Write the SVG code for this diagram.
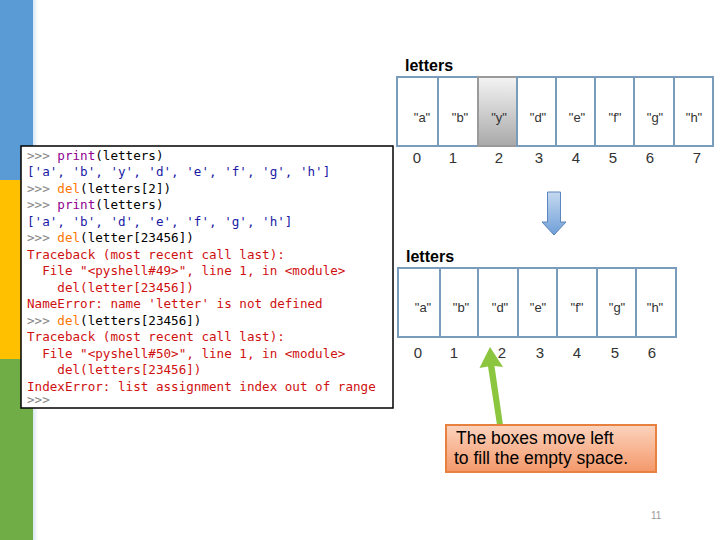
<svg xmlns="http://www.w3.org/2000/svg" width="720" height="540" viewBox="0 0 720 540">
<defs>
<linearGradient id="fade" x1="0" x2="1" y1="0" y2="0"><stop offset="0" stop-color="#d8e6f2"/><stop offset="1" stop-color="#ffffff"/></linearGradient>
<linearGradient id="gray" x1="0" x2="0" y1="0" y2="1"><stop offset="0" stop-color="#f4f4f4"/><stop offset="1" stop-color="#a9a9a9"/></linearGradient>
<linearGradient id="blueArr" x1="0" x2="0" y1="0" y2="1"><stop offset="0" stop-color="#c5d9f0"/><stop offset="1" stop-color="#6f9fd8"/></linearGradient>
<linearGradient id="orange" x1="0" x2="0" y1="0" y2="1"><stop offset="0" stop-color="#fbd3bd"/><stop offset="0.5" stop-color="#f8b694"/><stop offset="1" stop-color="#f4986a"/></linearGradient>
<style>
.cell{fill:#fff;stroke:#7a9cbc;stroke-width:2}
.lab{font-family:"Liberation Sans",Arial,sans-serif;font-size:13px;fill:#333;text-anchor:middle}
.idx{font-family:"Liberation Sans",Arial,sans-serif;font-size:15px;fill:#333;text-anchor:middle}
.title{font-family:"Liberation Sans",Arial,sans-serif;font-size:16px;font-weight:bold;fill:#000}
.code{font-family:"DejaVu Sans Mono","Liberation Mono",monospace;font-size:12.6px;fill:#000;white-space:pre}
.p{fill:#888}.bi{fill:#900090}.kw{fill:#ff7700}.out{fill:#1a1aa6}.err{fill:#d01010}
</style>
</defs>
<rect width="720" height="540" fill="#fff"/>
<g id="sidebar">
<rect x="0" y="0" width="33" height="180" fill="#5b9bd5"/>
<rect x="0" y="180" width="33" height="179" fill="#ffc000"/>
<rect x="0" y="359" width="33" height="181" fill="#70ad47"/>
<rect x="33" y="0" width="5" height="540" fill="url(#fade)"/>
</g>
<g id="code-box">
<rect x="21" y="146" width="372" height="262" fill="#fff" stroke="#000" stroke-width="1.5"/>
<text class="code" x="27" y="159.5"><tspan class="p">&gt;&gt;&gt; </tspan><tspan class="bi">print</tspan>(letters)</text>
<text class="code out" x="27" y="176">['a', 'b', 'y', 'd', 'e', 'f', 'g', 'h']</text>
<text class="code" x="27" y="192.5"><tspan class="p">&gt;&gt;&gt; </tspan><tspan class="kw">del</tspan>(letters[2])</text>
<text class="code" x="27" y="209"><tspan class="p">&gt;&gt;&gt; </tspan><tspan class="bi">print</tspan>(letters)</text>
<text class="code out" x="27" y="225.5">['a', 'b', 'd', 'e', 'f', 'g', 'h']</text>
<text class="code" x="27" y="242"><tspan class="p">&gt;&gt;&gt; </tspan><tspan class="kw">del</tspan>(letter[23456])</text>
<text class="code err" x="27" y="258.5">Traceback (most recent call last):</text>
<text class="code err" x="27" y="275">  File "&lt;pyshell#49&gt;", line 1, in &lt;module&gt;</text>
<text class="code err" x="27" y="291.5">    del(letter[23456])</text>
<text class="code err" x="27" y="308">NameError: name 'letter' is not defined</text>
<text class="code" x="27" y="324.5"><tspan class="p">&gt;&gt;&gt; </tspan><tspan class="kw">del</tspan>(letters[23456])</text>
<text class="code err" x="27" y="341">Traceback (most recent call last):</text>
<text class="code err" x="27" y="357.5">  File "&lt;pyshell#50&gt;", line 1, in &lt;module&gt;</text>
<text class="code err" x="27" y="374">    del(letters[23456])</text>
<text class="code err" x="27" y="390.5">IndexError: list assignment index out of range</text>
<text class="code p" x="27" y="404">&gt;&gt;&gt;</text>
</g>
<g id="array-before">
<text class="title" x="405" y="71">letters</text>
<rect class="cell" x="397" y="77" width="41" height="69"/>
<rect class="cell" x="438" y="77" width="40" height="69"/>
<rect x="478" y="77" width="39" height="69" fill="url(#gray)" stroke="#9a9a9a" stroke-width="2"/>
<rect class="cell" x="517" y="77" width="39" height="69"/>
<rect class="cell" x="556" y="77" width="39" height="69"/>
<rect class="cell" x="595" y="77" width="39" height="69"/>
<rect class="cell" x="634" y="77" width="40" height="69"/>
<rect class="cell" x="674" y="77" width="39" height="69"/>
<text class="lab" x="422" y="122">"a"</text>
<text class="lab" x="460" y="122">"b"</text>
<text class="lab" x="499" y="122">"y"</text>
<text class="lab" x="538" y="122">"d"</text>
<text class="lab" x="577" y="122">"e"</text>
<text class="lab" x="615" y="122">"f"</text>
<text class="lab" x="655" y="122">"g"</text>
<text class="lab" x="694" y="122">"h"</text>
<text class="idx" x="417" y="163">0</text>
<text class="idx" x="453" y="163">1</text>
<text class="idx" x="499" y="163">2</text>
<text class="idx" x="539" y="163">3</text>
<text class="idx" x="576" y="163">4</text>
<text class="idx" x="613" y="163">5</text>
<text class="idx" x="650" y="163">6</text>
<text class="idx" x="697" y="163">7</text>
</g>
<g id="array-after">
<text class="title" x="406" y="262">letters</text>
<rect class="cell" x="398" y="268" width="42" height="69"/>
<rect class="cell" x="440" y="268" width="38" height="69"/>
<rect class="cell" x="478" y="268" width="40" height="69"/>
<rect class="cell" x="518" y="268" width="39" height="69"/>
<rect class="cell" x="557" y="268" width="40" height="69"/>
<rect class="cell" x="597" y="268" width="39" height="69"/>
<rect class="cell" x="636" y="268" width="40" height="69"/>
<text class="lab" x="423" y="312">"a"</text>
<text class="lab" x="461" y="312">"b"</text>
<text class="lab" x="500" y="312">"d"</text>
<text class="lab" x="538" y="312">"e"</text>
<text class="lab" x="577" y="312">"f"</text>
<text class="lab" x="617" y="312">"g"</text>
<text class="lab" x="655" y="312">"h"</text>
<text class="idx" x="418" y="358">0</text>
<text class="idx" x="454" y="358">1</text>
<text class="idx" x="502" y="358">2</text>
<text class="idx" x="540" y="358">3</text>
<text class="idx" x="577" y="358">4</text>
<text class="idx" x="615" y="358">5</text>
<text class="idx" x="652" y="358">6</text>
</g>
<g id="connectors">
<path d="M547.5,192 H560.5 V222 H566 L554,235 L542,222 H547.5 Z" fill="url(#blueArr)" stroke="#5a86bb" stroke-width="1"/>
<path d="M497,425 L503,425 L494.5,366 L503,367 L490,347 L479.5,368 L488,366.5 Z" fill="#8cc63f"/>
</g>
<g id="note">
<rect x="446" y="425" width="210" height="47" fill="url(#orange)" stroke="#e8803f" stroke-width="2"/>
<text x="456" y="443.5" font-family="Liberation Sans,Arial,sans-serif" font-size="17.5px" fill="#000">The boxes move left</text>
<text x="454" y="463.5" font-family="Liberation Sans,Arial,sans-serif" font-size="17.5px" fill="#000">to fill the empty space.</text>
</g>
<text x="651" y="519" font-family="Liberation Sans,Arial,sans-serif" font-size="10px" fill="#999">11</text>
</svg>
